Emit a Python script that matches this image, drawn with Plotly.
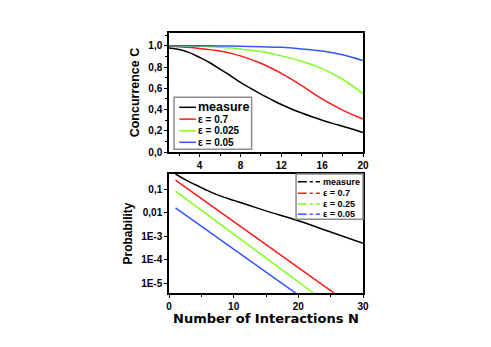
import plotly.graph_objects as go

# top panel: concurrence vs N
N_TOP = [1, 2, 3, 4, 5, 6, 7, 8, 9, 10, 11, 12, 13, 14, 15, 16, 17, 18, 19, 20]
C_MEASURE = [0.978, 0.965, 0.935, 0.89, 0.84, 0.78, 0.72, 0.655, 0.6, 0.545,
             0.495, 0.447, 0.405, 0.367, 0.332, 0.30, 0.27, 0.243, 0.215, 0.183]
N_EPS = [1, 2, 4, 6, 8, 10, 12, 14, 16, 18, 20]
C_EPS_07 = [0.995, 0.99, 0.975, 0.95, 0.905, 0.835, 0.74, 0.625, 0.50, 0.395, 0.31]
C_EPS_0025 = [1.0, 0.999, 0.995, 0.985, 0.97, 0.945, 0.905, 0.855, 0.785, 0.685, 0.55]
C_EPS_005 = [1.0, 1.0, 1.0, 0.998, 0.995, 0.99, 0.985, 0.97, 0.95, 0.915, 0.86]

# bottom panel: probability vs N (log)
N_BOT = [1, 2, 3, 4, 5, 6, 7, 8, 10, 12, 15, 20, 25, 30]
P_MEASURE = [0.43, 0.30, 0.21, 0.155, 0.115, 0.085, 0.064, 0.05, 0.033,
             0.022, 0.0118, 0.0045, 0.0015, 0.0005]
N_LIN = [1, 5, 10, 15, 20, 25, 26]
P_EPS_07 = [0.24, 0.040, 0.0042, 0.00044, 4.6e-5, 4.9e-6, 3.0e-6]
P_EPS_025 = [0.082, 0.0128, 0.00126, 0.000123, 1.2e-5, 1.2e-6, 7e-7]
P_EPS_005 = [0.016, 0.0027, 0.000285, 3.0e-5, 3.2e-6, 3.3e-7, 2e-7]

TOP_NAMES = ["measure", "ε = 0.7", "ε = 0.025", "ε = 0.05"]
BOT_NAMES = ["measure", "ε = 0.7", "ε = 0.25", "ε = 0.05"]
COLORS = ["#000000", "#ff1a1a", "#80ff20", "#3355ff"]

FONT = "Liberation Sans"

fig = go.Figure()

top_x = [N_TOP, N_EPS, N_EPS, N_EPS]
top_y = [C_MEASURE, C_EPS_07, C_EPS_0025, C_EPS_005]
for i in range(4):
    fig.add_trace(go.Scatter(
        x=top_x[i], y=top_y[i], mode="lines", name=TOP_NAMES[i],
        line=dict(color=COLORS[i], width=1.5, shape="spline"),
        xaxis="x", yaxis="y", showlegend=False,
    ))

bot_x = [N_BOT, N_LIN, N_LIN, N_LIN]
bot_y = [P_MEASURE, P_EPS_07, P_EPS_025, P_EPS_005]
for i in range(4):
    fig.add_trace(go.Scatter(
        x=bot_x[i], y=bot_y[i], mode="lines", name=BOT_NAMES[i],
        line=dict(color=COLORS[i], width=1.5, shape="spline" if i == 0 else "linear"),
        xaxis="x2", yaxis="y2", showlegend=False,
    ))


# plotly's own legend rows are too tall here, so draw compact legend boxes
def add_legend(xref, yref, box, line_x, text_x, rows_y, names, sizes, dash):
    fig.add_shape(type="rect", xref=xref, yref=yref,
                  x0=box[0], x1=box[1], y0=box[2], y1=box[3],
                  line=dict(color="#8c8c8c", width=1.5), fillcolor="white",
                  layer="above")
    for i, name in enumerate(names):
        fig.add_shape(type="line", xref=xref, yref=yref,
                      x0=line_x[0], x1=line_x[1], y0=rows_y[i], y1=rows_y[i],
                      line=dict(color=COLORS[i], width=1.5, dash=dash),
                      layer="above")
        fig.add_annotation(xref=xref, yref=yref, x=text_x, y=rows_y[i],
                           text=name, showarrow=False, xanchor="left",
                           yanchor="middle",
                           font=dict(family=FONT, size=sizes[i], color="black",
                                     weight="bold"))


add_legend("x domain", "y domain", [0.026, 0.426, 0.023, 0.46], [0.053, 0.139],
           0.14, [0.376, 0.277, 0.179, 0.082], TOP_NAMES, [12.5, 10, 10, 10],
           "solid")
add_legend("x2 domain", "y2 domain", [0.655, 1.0, 0.619, 1.0], [0.664, 0.778],
           0.782, [0.935, 0.838, 0.748, 0.661], BOT_NAMES, [9, 9, 9, 9],
           "dashdot")

# x title of the lower panel sits closer to the tick labels than standoff allows
fig.add_annotation(xref="x2 domain", yref="y2 domain", x=0.5, y=0,
                   yanchor="middle", yshift=-25, showarrow=False,
                   text="Number of Interactions N",
                   font=dict(family="DejaVu Sans", size=13, color="black",
                             weight="bold"))

axis_common = dict(
    showline=True, linecolor="black", linewidth=1.5, mirror=True,
    ticks="outside", ticklen=3, tickwidth=1.2, tickcolor="black",
    showgrid=False, zeroline=False,
    tickfont=dict(family=FONT, size=10, color="black", weight="bold"),
)

# page body has an 8px margin, so the margins are shifted by that
fig.update_layout(
    width=491, height=347,
    margin=dict(l=161, r=136, t=25, b=62),
    paper_bgcolor="white", plot_bgcolor="white",
    font=dict(family=FONT, color="black"),
    showlegend=False,
    xaxis=dict(
        **axis_common, domain=[0, 1], anchor="y", range=[1, 20],
        tickvals=[4, 8, 12, 16, 20],
        minor=dict(tickvals=[2, 6, 10, 14, 18], ticks="outside", ticklen=2,
                   tickcolor="black"),
    ),
    yaxis=dict(
        **axis_common, domain=[0.542, 1], anchor="x", range=[0, 1.12],
        tickvals=[0, 0.2, 0.4, 0.6, 0.8, 1.0],
        ticktext=["0,0", "0,2", "0,4", "0,6", "0,8", "1,0"],
        minor=dict(tickvals=[0.1, 0.3, 0.5, 0.7, 0.9, 1.1], ticks="outside",
                   ticklen=2, tickcolor="black"),
        title=dict(text="Concurrence C", standoff=6,
                   font=dict(family=FONT, size=12.5, weight="bold")),
    ),
    xaxis2=dict(
        **axis_common, domain=[0, 1], anchor="y2", range=[0, 30],
        tickvals=[0, 10, 20, 30],
        minor=dict(tickvals=[5, 15, 25], ticks="outside", ticklen=2,
                   tickcolor="black"),
    ),
    yaxis2=dict(
        **axis_common, domain=[0, 0.458], anchor="x2", type="log",
        range=[-5.41, -0.36],
        tickvals=[0.1, 0.01, 0.001, 0.0001, 0.00001],
        ticktext=["0,1", "0,01", "1E-3", "1E-4", "1E-5"],
        title=dict(text="Probability", standoff=6,
                   font=dict(family=FONT, size=12, weight="bold")),
    ),
)

fig.write_html("out.html")
